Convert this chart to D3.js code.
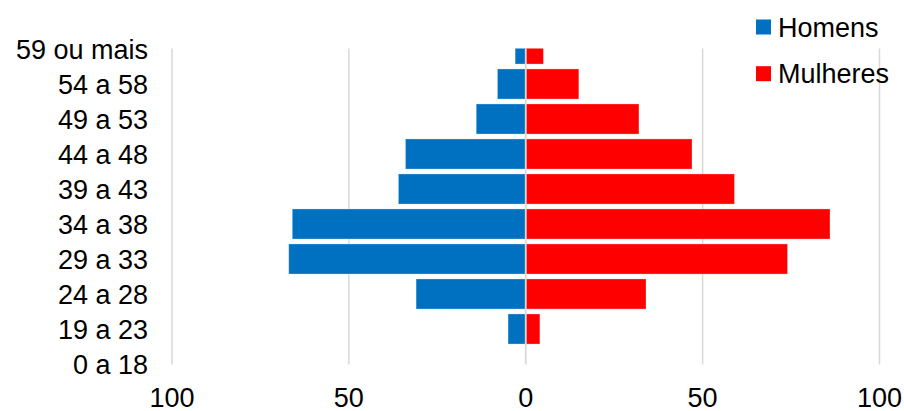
<!DOCTYPE html>
<html>
<head>
<meta charset="utf-8">
<script src="https://cdn.jsdelivr.net/npm/d3@7"></script>
<style>
  body { margin: 0; background: #fff; }
  svg { display: block; font-family: "Liberation Sans", Arial, sans-serif; }
</style>
</head>
<body>
<svg id="chart"></svg>
<script>
// age groups, bottom to top as in the picture
const categories = ['0 a 18', '19 a 23', '24 a 28', '29 a 33', '34 a 38',
                    '39 a 43', '44 a 48', '49 a 53', '54 a 58', '59 ou mais'];
const homens   = [0, 5, 31, 67, 66, 36, 34, 14, 8, 3];
const mulheres = [0, 4, 34, 74, 86, 59, 47, 32, 15, 5];
const xTicks = [-100, -50, 0, 50, 100];
const seriesNames = ['Homens', 'Mulheres'];
const colors = ['#0070C0', '#FF0000'];

const width = 904;
const height = 411;
const fontSize = 27;

const svg = d3.select('#chart')
    .attr('width', width)
    .attr('height', height);

const x = d3.scaleLinear().domain([-100, 100]).range([172, 879.5]);

// top category first, centres land on 49 .. 364
const y = d3.scaleBand()
    .domain(categories.slice().reverse())
    .range([31.5, 381.5])
    .paddingInner(0.14)
    .paddingOuter(0.07);

const plotTop = 48.5, plotBottom = 364.5;

svg.append('clipPath').attr('id', 'plot-clip')
  .append('rect')
    .attr('x', x(-100))
    .attr('y', plotTop)
    .attr('width', x(100) - x(-100))
    .attr('height', plotBottom - plotTop);

// gridlines
svg.append('g')
  .selectAll('line')
  .data(xTicks.filter(d => d !== 0))
  .join('line')
    .attr('x1', d => x(d)).attr('x2', d => x(d))
    .attr('y1', plotTop).attr('y2', plotBottom)
    .attr('stroke', '#d9d9d9')
    .attr('stroke-width', 1.5);

const rows = categories.map((c, i) => ({cat: c, h: homens[i], m: mulheres[i]}));

const bars = svg.append('g').attr('clip-path', 'url(#plot-clip)');

bars.selectAll('rect.homens')
  .data(rows.filter(d => d.h > 0))
  .join('rect')
    .attr('class', 'homens')
    .attr('x', d => x(-d.h))
    .attr('y', d => y(d.cat))
    .attr('width', d => x(0) - x(-d.h))
    .attr('height', y.bandwidth())
    .attr('fill', colors[0])
    .attr('stroke', '#fff')
    .attr('stroke-opacity', 0.3)
    .attr('stroke-width', 1);

bars.selectAll('rect.mulheres')
  .data(rows.filter(d => d.m > 0))
  .join('rect')
    .attr('class', 'mulheres')
    .attr('x', x(0))
    .attr('y', d => y(d.cat))
    .attr('width', d => x(d.m) - x(0))
    .attr('height', y.bandwidth())
    .attr('fill', colors[1])
    .attr('stroke', '#fff')
    .attr('stroke-opacity', 0.3)
    .attr('stroke-width', 1);

// zero line sits over the bars
svg.append('line')
    .attr('x1', x(0)).attr('x2', x(0))
    .attr('y1', plotTop).attr('y2', plotBottom)
    .attr('stroke', '#d9d9d9')
    .attr('stroke-width', 1.8);

// category labels
svg.append('g')
  .selectAll('text')
  .data(categories)
  .join('text')
    .attr('x', 148)
    .attr('y', d => y(d) + y.bandwidth() / 2)
    .attr('dy', '0.36em')
    .attr('text-anchor', 'end')
    .attr('font-size', fontSize)
    .attr('fill', '#000')
    .text(d => d);

// value axis labels (absolute values)
svg.append('g')
  .selectAll('text')
  .data(xTicks)
  .join('text')
    .attr('x', d => x(d))
    .attr('y', 406.5)
    .attr('text-anchor', 'middle')
    .attr('font-size', fontSize)
    .attr('fill', '#000')
    .text(d => Math.abs(d));

// legend
const legend = svg.append('g')
  .selectAll('g')
  .data(seriesNames)
  .join('g')
    .attr('transform', (d, i) => `translate(756, ${19.5 + i * 46.7})`);

legend.append('rect')
    .attr('width', 15).attr('height', 15)
    .attr('fill', (d, i) => colors[i]);

legend.append('text')
    .attr('x', 22)
    .attr('y', 7.5)
    .attr('dy', '0.36em')
    .attr('font-size', fontSize)
    .attr('fill', '#000')
    .text(d => d);
</script>
</body>
</html>
